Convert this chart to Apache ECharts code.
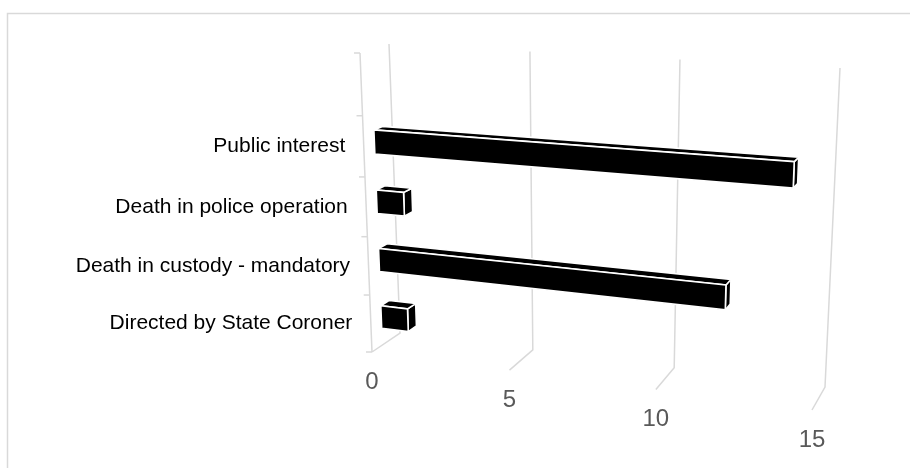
<!DOCTYPE html>
<html>
<head>
<meta charset="utf-8">
<title>Inquest reasons</title>
<script src="https://cdn.jsdelivr.net/npm/echarts@6.0.0/dist/echarts.min.js"></script>
<style>
  html, body { margin: 0; padding: 0; background: #fff; }
  #chart { width: 910px; height: 468px; }
</style>
</head>
<body>
<div id="chart"></div>
<script>
// categories listed bottom to top, as the category axis counts them
const categories = ['Directed by State Coroner', 'Death in custody - mandatory', 'Death in police operation', 'Public interest'];
const values = [1, 12, 1, 14];
const valueTicks = [0, 5, 10, 15];

// corners of the perspective box (front d=0 / back d=1, left u=0 / right u=1, floor h=0 / top h=1)
const F00 = [372, 352], F10 = [812, 410], F01 = [360, 53], F11 = [826, 80];
const B00 = [400, 333], B10 = [825, 387], B01 = [389, 44], B11 = [840, 68];
const RU = 1.1, RH = 1.062;   // foreshortening along value / height
const D0 = 0.37, D1 = 0.67;   // depth taken by the bars
const GRID = '#d9d9d9';
const FONT = '"Liberation Sans", Arial, sans-serif';

function bil(p00, p10, p01, p11, U, H) {
  const x = p00[0] * (1 - U) * (1 - H) + p10[0] * U * (1 - H) + p01[0] * (1 - U) * H + p11[0] * U * H;
  const y = p00[1] * (1 - U) * (1 - H) + p10[1] * U * (1 - H) + p01[1] * (1 - U) * H + p11[1] * U * H;
  return [x, y];
}

function proj(u, h, d) {
  const U = u / (u + (1 - u) * RU);
  const H = h / (h + (1 - h) * RH);
  const f = bil(F00, F10, F01, F11, U, H);
  const b = bil(B00, B10, B01, B11, U, H);
  return [f[0] + (b[0] - f[0]) * d, f[1] + (b[1] - f[1]) * d];
}

// pixel from the hidden cartesian grid -> unit cube coords
function toU(cs, px) { return (px - cs.x) / cs.width; }
function toH(cs, py) { return (cs.y + cs.height - py) / cs.height; }

function renderGridLine(params, api) {
  const cs = params.coordSys;
  const v = api.value(0);
  const u = toU(cs, api.coord([v, 0])[0]);
  const top = proj(u, 1, 1), bot = proj(u, 0, 1), front = proj(u, 0, 0);
  return {
    type: 'group',
    children: [
      { type: 'polyline', shape: { points: [top, bot, front] },
        style: { stroke: GRID, lineWidth: 1.5, fill: null } },
      { type: 'text', x: front[0], y: front[1] + 30,
        style: { text: String(v), fill: '#595959', font: '24px ' + FONT, align: 'center', verticalAlign: 'middle' } }
    ]
  };
}

function renderWall(params, api) {
  const cs = params.coordSys;
  const band = api.size([0, 1])[1] / cs.height;
  const children = [
    { type: 'line', shape: { x1: proj(0, 0, 0)[0], y1: proj(0, 0, 0)[1], x2: proj(0, 1, 0)[0], y2: proj(0, 1, 0)[1] },
      style: { stroke: GRID, lineWidth: 1.5 } }
  ];
  for (let h = 0; h <= 1 + 1e-6; h += band) {
    const p = proj(0, h, 0);
    children.push({ type: 'line', shape: { x1: p[0] - 6, y1: p[1], x2: p[0], y2: p[1] },
      style: { stroke: GRID, lineWidth: 1.5 } });
  }
  return { type: 'group', children: children };
}

function renderLabel(params, api) {
  const cs = params.coordSys;
  const h = toH(cs, api.coord([0, api.value(1)])[1]);
  const p = proj(0, h, 0);
  return { type: 'text', x: p[0] - 18.5, y: p[1],
    style: { text: categories[params.dataIndex], fill: '#000', font: '21px ' + FONT, align: 'right', verticalAlign: 'middle' } };
}

function renderBar(params, api) {
  const cs = params.coordSys;
  const k = api.value(1);
  const u1 = toU(cs, api.coord([api.value(0), k])[0]);
  const hc = toH(cs, api.coord([0, k])[1]);
  const half = api.size([0, 1])[1] / cs.height * 0.2;
  const hb = hc - half, ht = hc + half;
  const style = { fill: '#000', stroke: '#fff', lineWidth: 1.6, lineJoin: 'miter' };
  return {
    type: 'group',
    children: [
      { type: 'polygon', shape: { points: [proj(u1, hb, D0), proj(u1, hb, D1), proj(u1, ht, D1), proj(u1, ht, D0)] }, style: style },
      { type: 'polygon', shape: { points: [proj(0, ht, D0), proj(u1, ht, D0), proj(u1, ht, D1), proj(0, ht, D1)] }, style: style },
      { type: 'polygon', shape: { points: [proj(0, hb, D0), proj(u1, hb, D0), proj(u1, ht, D0), proj(0, ht, D0)] }, style: style }
    ]
  };
}

const chart = echarts.init(document.getElementById('chart'));
chart.setOption({
  animation: false,
  backgroundColor: '#fff',
  graphic: [{
    type: 'rect', left: 5, top: 11, shape: { width: 1000, height: 1000 },
    style: { fill: null, stroke: GRID, lineWidth: 1.5 }, z: -1
  }],
  grid: { left: 0, top: 0, right: 0, bottom: 0 },
  xAxis: { type: 'value', show: false, min: 0, max: 15, interval: 5 },
  yAxis: { type: 'category', show: false, data: categories, max: categories.length },
  series: [
    { type: 'custom', renderItem: renderGridLine, data: valueTicks.map(v => [v, 0]), z: 1, silent: true },
    { type: 'custom', renderItem: renderWall, data: [[0, 0]], z: 1, silent: true },
    { type: 'custom', renderItem: renderLabel, data: categories.map((c, i) => [0, i]), z: 2, silent: true },
    { type: 'custom', renderItem: renderBar, data: values.map((v, i) => [v, i]), z: 3 }
  ]
});
</script>
</body>
</html>
